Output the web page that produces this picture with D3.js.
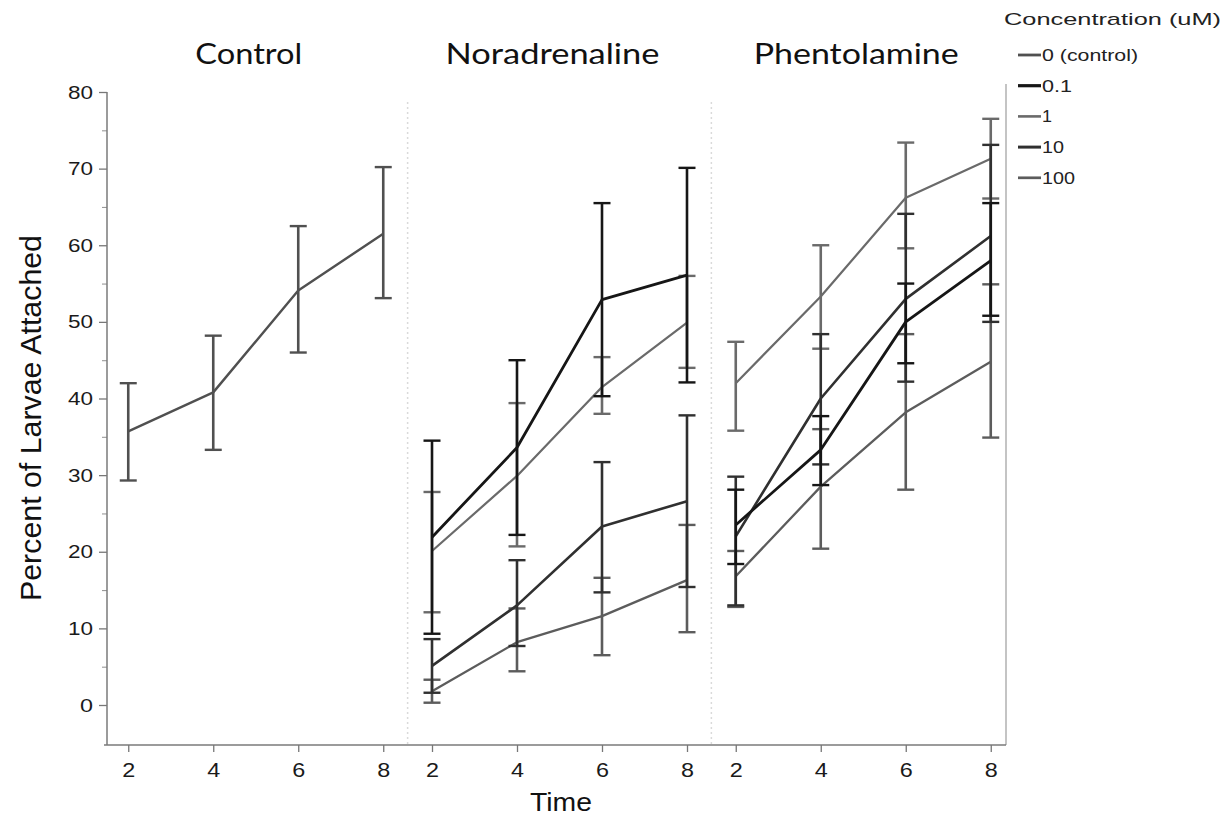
<!DOCTYPE html>
<html><head><meta charset="utf-8">
<script src="https://cdn.jsdelivr.net/npm/d3@7"></script>
<style>body{margin:0;background:#fff}</style>
</head><body>
<svg id="chart" width="1226" height="818"></svg>
<script>
// ---------- data ----------
const panels = ["Control", "Noradrenaline", "Phentolamine"];
const times = [2, 4, 6, 8];
const concentrations = ["0 (control)", "0.1", "1", "10", "100"];
const yTicks = [0, 10, 20, 30, 40, 50, 60, 70, 80];
const yMinorTicks = [5, 15, 25, 35, 45, 55, 65, 75];

// Control
const control_c0_mean = [35.7, 40.8, 54.1, 61.5];
const control_c0_lo   = [29.3, 33.3, 46.0, 53.1];
const control_c0_hi   = [42.0, 48.2, 62.5, 70.2];

// Noradrenaline
const nor_c01_mean = [21.9, 33.6, 52.9, 56.1];
const nor_c01_lo   = [9.3, 22.2, 40.3, 42.1];
const nor_c01_hi   = [34.5, 45.0, 65.5, 70.1];
const nor_c1_mean  = [20.1, 29.9, 41.5, 49.9];
const nor_c1_lo    = [12.1, 20.7, 38.0, 44.0];
const nor_c1_hi    = [27.8, 39.4, 45.4, 56.0];
const nor_c10_mean = [5.1, 13.0, 23.3, 26.6];
const nor_c10_lo   = [1.6, 7.7, 14.7, 15.4];
const nor_c10_hi   = [8.6, 18.9, 31.7, 37.8];
const nor_c100_mean = [1.8, 8.2, 11.6, 16.3];
const nor_c100_lo   = [0.3, 4.4, 6.5, 9.5];
const nor_c100_hi   = [3.3, 12.6, 16.6, 23.5];

// Phentolamine
const phe_c01_mean = [23.5, 33.3, 50.0, 58.0];
const phe_c01_lo   = [18.4, 28.7, 44.6, 50.8];
const phe_c01_hi   = [28.1, 37.7, 55.0, 65.5];
const phe_c1_mean  = [42.0, 53.3, 66.2, 71.3];
const phe_c1_lo    = [35.8, 46.5, 59.6, 66.1];
const phe_c1_hi    = [47.4, 60.0, 73.4, 76.5];
const phe_c10_mean = [22.0, 40.0, 53.0, 61.2];
const phe_c10_lo   = [13.0, 31.4, 42.2, 50.0];
const phe_c10_hi   = [29.8, 48.4, 64.1, 73.1];
const phe_c100_mean = [16.8, 28.5, 38.2, 44.8];
const phe_c100_lo   = [12.8, 20.4, 28.1, 34.9];
const phe_c100_hi   = [20.1, 36.0, 48.4, 54.9];

const series = [
  {panel: "Control", conc: "0 (control)", mean: control_c0_mean, lo: control_c0_lo, hi: control_c0_hi},
  {panel: "Noradrenaline", conc: "100", mean: nor_c100_mean, lo: nor_c100_lo, hi: nor_c100_hi},
  {panel: "Noradrenaline", conc: "1", mean: nor_c1_mean, lo: nor_c1_lo, hi: nor_c1_hi},
  {panel: "Noradrenaline", conc: "10", mean: nor_c10_mean, lo: nor_c10_lo, hi: nor_c10_hi},
  {panel: "Noradrenaline", conc: "0.1", mean: nor_c01_mean, lo: nor_c01_lo, hi: nor_c01_hi},
  {panel: "Phentolamine", conc: "100", mean: phe_c100_mean, lo: phe_c100_lo, hi: phe_c100_hi},
  {panel: "Phentolamine", conc: "1", mean: phe_c1_mean, lo: phe_c1_lo, hi: phe_c1_hi},
  {panel: "Phentolamine", conc: "10", mean: phe_c10_mean, lo: phe_c10_lo, hi: phe_c10_hi},
  {panel: "Phentolamine", conc: "0.1", mean: phe_c01_mean, lo: phe_c01_lo, hi: phe_c01_hi}
];

// ---------- styles ----------
const concColor = d3.scaleOrdinal()
  .domain(concentrations)
  .range(["#505050", "#161616", "#6a6a6a", "#303030", "#5c5c5c"]);
const concWidth = d3.scaleOrdinal()
  .domain(concentrations)
  .range([2.4, 2.8, 2.2, 2.6, 2.3]);
const SANS = "Liberation Sans, Arial, sans-serif";
const TITLE = "Lato, Open Sans, sans-serif";

// ---------- layout ----------
const svg = d3.select("#chart");
const plotLeft = 107, plotRight = 1006, plotTop = 92, plotBottom = 745;

const y = d3.scaleLinear().domain([-5.22, 80]).range([plotBottom, plotTop]);
const panelScale = d3.scaleBand().domain(panels).range([plotLeft, 1012]).paddingInner(0.0206);
const xInner = d3.scaleLinear().domain([1.5, 8.5]).range([0, panelScale.bandwidth()]);
const xPos = (panel, t) => panelScale(panel) + xInner(t);

function txt(g, s, x, yy, fs, fam, w, anchor, color) {
  const t = g.append("text").attr("x", x).attr("y", yy)
    .attr("font-size", fs).attr("font-family", fam)
    .attr("text-anchor", anchor || "start")
    .attr("fill", color || "#111").text(s);
  if (w) t.attr("textLength", w).attr("lengthAdjust", "spacingAndGlyphs");
  return t;
}

// panel separators (faint dotted)
const gap = panelScale.step() - panelScale.bandwidth();
panels.slice(1).forEach(p => {
  const sx = panelScale(p) - gap / 2;
  svg.append("line").attr("x1", sx).attr("x2", sx).attr("y1", plotTop + 10).attr("y2", plotBottom)
    .attr("stroke", "#dadada").attr("stroke-width", 1.5).attr("stroke-dasharray", "2,3");
});
// right frame
svg.append("line").attr("x1", plotRight).attr("x2", plotRight).attr("y1", plotTop - 8).attr("y2", plotBottom)
  .attr("stroke", "#a5a5a5").attr("stroke-width", 1.3);

// y axis
const yAxis = d3.axisLeft(y).tickValues(yTicks).tickSize(8).tickPadding(6).tickFormat(d3.format("d"));
const gy = svg.append("g").attr("transform", `translate(${plotLeft},0)`).call(yAxis);
gy.select(".domain").remove();
gy.selectAll(".tick line").attr("stroke", "#777").attr("stroke-width", 1.3);
gy.selectAll(".tick text").attr("font-size", 19).attr("font-family", SANS).attr("fill", "#1a1a1a")
  .attr("textLength", d => d === 0 ? 13 : 25).attr("lengthAdjust", "spacingAndGlyphs");
const yMinor = d3.axisLeft(y).tickValues(yMinorTicks).tickSize(5).tickFormat("");
const gym = svg.append("g").attr("transform", `translate(${plotLeft},0)`).call(yMinor);
gym.select(".domain").remove();
gym.selectAll(".tick line").attr("stroke", "#999").attr("stroke-width", 1.1);
svg.append("line").attr("x1", plotLeft).attr("x2", plotLeft).attr("y1", plotTop).attr("y2", plotBottom)
  .attr("stroke", "#7a7a7a").attr("stroke-width", 1.5);

// x axis
svg.append("line").attr("x1", plotLeft - 3).attr("x2", plotRight).attr("y1", plotBottom).attr("y2", plotBottom)
  .attr("stroke", "#7a7a7a").attr("stroke-width", 1.5);
panels.forEach(p => {
  const xa = d3.axisBottom(xInner).tickValues(times).tickSize(7).tickPadding(11).tickFormat(d3.format("d"));
  const gx = svg.append("g").attr("transform", `translate(${panelScale(p)},${plotBottom})`).call(xa);
  gx.select(".domain").remove();
  gx.selectAll(".tick line").attr("stroke", "#777").attr("stroke-width", 1.3);
  gx.selectAll(".tick text").attr("font-size", 20).attr("font-family", SANS).attr("fill", "#1a1a1a")
    .attr("textLength", 13).attr("lengthAdjust", "spacingAndGlyphs");
});

// axis titles
txt(svg, "Time", 561, 811, 25, SANS, 62, "middle");
txt(svg, "Percent of Larvae Attached", 0, 0, 29, SANS, 366, "middle")
  .attr("transform", "translate(41,418) rotate(-90)");

// panel titles
const titleWidths = {"Control": 107, "Noradrenaline": 214, "Phentolamine": 205};
panels.forEach(p => {
  txt(svg, p, panelScale(p) + panelScale.bandwidth() / 2 - 7, 64, 29, TITLE, titleWidths[p], "middle");
});

// data
const line = d3.line().x(d => d.x).y(d => d.y);
series.forEach(s => {
  const col = concColor(s.conc), w = concWidth(s.conc);
  const pts = times.map((t, i) => ({x: xPos(s.panel, t), y: y(s.mean[i])}));
  const g = svg.append("g");
  times.forEach((t, i) => {
    const cx = xPos(s.panel, t);
    g.append("line").attr("x1", cx).attr("x2", cx).attr("y1", y(s.lo[i])).attr("y2", y(s.hi[i]))
      .attr("stroke", col).attr("stroke-width", 2.6);
    [s.lo[i], s.hi[i]].forEach(v => {
      g.append("line").attr("x1", cx - 8.5).attr("x2", cx + 8.5).attr("y1", y(v)).attr("y2", y(v))
        .attr("stroke", col).attr("stroke-width", 2.4);
    });
  });
  g.append("path").datum(pts).attr("d", line).attr("fill", "none")
    .attr("stroke", col).attr("stroke-width", w).attr("stroke-linejoin", "round");
});

// legend
const lg = svg.append("g");
txt(lg, "Concentration (uM)", 1004, 25, 17, SANS, 217, "start", "#222");
const legendWidths = {"0 (control)": 96, "0.1": 30, "1": 10, "10": 22, "100": 33};
concentrations.forEach((c, i) => {
  const ly = 55 + i * 30.7;
  lg.append("line").attr("x1", 1018).attr("x2", 1041).attr("y1", ly).attr("y2", ly)
    .attr("stroke", concColor(c)).attr("stroke-width", concWidth(c) + 0.4);
  txt(lg, c, 1042, ly + 6, 17, SANS, legendWidths[c], "start", "#222");
});
</script>
</body></html>
